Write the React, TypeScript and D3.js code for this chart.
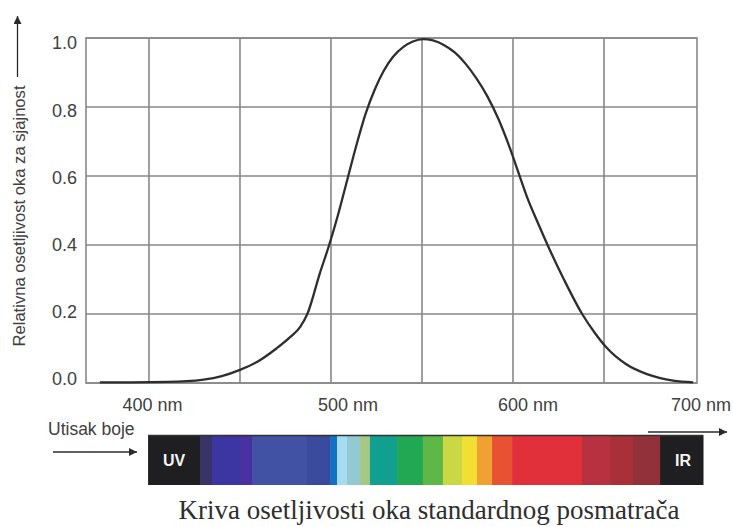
import * as React from 'react'
import * as d3 from 'd3'

const {useRef, useEffect} = React

// vrednosti ocitane sa slike (nm, relativna osetljivost)
const wavelengths = [373, 390, 410, 430, 440, 450, 460, 470, 478, 483, 487, 494, 499, 504, 509, 514, 519, 524, 529, 534, 540, 545, 550.5, 556, 562, 568, 574, 580, 586, 592, 598, 603, 608, 614, 619, 628, 638, 645, 651, 662, 674, 688, 699]
const sensitivity = [0.002, 0.002, 0.003, 0.01, 0.02, 0.038, 0.063, 0.1, 0.135, 0.162, 0.2, 0.32, 0.4, 0.49, 0.59, 0.69, 0.78, 0.85, 0.905, 0.945, 0.975, 0.99, 0.997, 0.993, 0.98, 0.958, 0.925, 0.882, 0.83, 0.765, 0.685, 0.61, 0.535, 0.46, 0.4, 0.3, 0.2, 0.145, 0.105, 0.055, 0.025, 0.007, 0.002]

const yTicks = [0, 0.2, 0.4, 0.6, 0.8, 1.0]
const xGrid = [400, 450, 500, 550, 600, 650]
const xTickValues = [400, 500, 600, 700]
const xTickLabels = ['400 nm', '500 nm', '600 nm', '700 nm']
const xTickShift = [3.5, 17, 15, 6]

// spektar: granice segmenata u nm i boje
const spectrumStops = [399.5, 428, 434.6, 450, 456.6, 486.8, 499.5, 503.3, 508.8, 516, 521.4, 536.3, 550.5, 561.5, 572, 580.2, 588.5, 599.5, 637.9, 653.3, 665.9, 680.8, 704.4]
const spectrumColors = ['#1f1f21', '#3a3466', '#3b36a2', '#4a31a0', '#4151a3', '#3a4a9c', '#1271c2', '#a6dcf2', '#93c9d2', '#a3c985', '#11a08f', '#22a853', '#5db848', '#c9d843', '#f2df34', '#f1a032', '#e85132', '#e1303a', '#b73141', '#a93039', '#923139', '#1f1f21']

const chartTitle = 'Kriva osetljivosti oka standardnog posmatrača'
const yTitle = 'Relativna osetljivost oka za sjajnost'

const W = 733
const H = 527
const sans = '"Liberation Sans", Arial, sans-serif'

export default function App() {
  const ref = useRef(null)

  useEffect(() => {
    document.body.style.margin = '0'
    const svg = d3.select(ref.current)
    svg.selectAll('*').remove()

    const x = d3.scaleLinear().domain([365.4, 701.1]).range([86, 697])
    const y = d3.scaleLinear().domain([0, 1]).range([383, 38])
    const yLab = d3.scaleLinear().domain([0, 1]).range([379, 43])

    const defs = svg.append('defs')
    defs.append('marker')
      .attr('id', 'arr')
      .attr('viewBox', '0 0 10 10')
      .attr('refX', 10).attr('refY', 5)
      .attr('markerWidth', 11).attr('markerHeight', 8)
      .attr('markerUnits', 'userSpaceOnUse')
      .attr('orient', 'auto')
      .append('path').attr('d', 'M0,0L10,5L0,10Z').attr('fill', '#2b2b2b')

    const grid = svg.append('g').attr('stroke', '#888').attr('stroke-width', 1.6)
    grid.selectAll('.gy').data(yTicks).join('line')
      .attr('x1', x.range()[0]).attr('x2', x.range()[1])
      .attr('y1', d => y(d)).attr('y2', d => y(d))
    grid.selectAll('.gx').data(xGrid).join('line')
      .attr('x1', d => x(d)).attr('x2', d => x(d))
      .attr('y1', y(0)).attr('y2', y(1))
    grid.append('rect')
      .attr('x', x.range()[0]).attr('y', y(1))
      .attr('width', x.range()[1] - x.range()[0]).attr('height', y(0) - y(1))
      .attr('fill', 'none')

    const pts = wavelengths.map((w, i) => [w, sensitivity[i]])
    svg.append('path')
      .attr('d', d3.line().x(d => x(d[0])).y(d => y(d[1])).curve(d3.curveMonotoneX)(pts))
      .attr('fill', 'none').attr('stroke', '#2e2e2e').attr('stroke-width', 2.3)

    svg.append('g').selectAll('text').data(yTicks).join('text')
      .attr('x', 77).attr('y', d => yLab(d)).attr('dy', '0.35em')
      .attr('text-anchor', 'end')
      .attr('font-family', sans).attr('font-size', 18).attr('fill', '#404040')
      .text(d => d.toFixed(1))

    svg.append('g').selectAll('text').data(xTickValues).join('text')
      .attr('x', (d, i) => x(d) + xTickShift[i]).attr('y', 411)
      .attr('text-anchor', 'middle')
      .attr('font-family', sans).attr('font-size', 18).attr('fill', '#404040')
      .text((d, i) => xTickLabels[i])

    // naslov y ose sa strelicom
    svg.append('text')
      .attr('transform', 'translate(25,216) rotate(-90)')
      .attr('text-anchor', 'middle')
      .attr('font-family', sans).attr('font-size', 16.6).attr('fill', '#404040')
      .text(yTitle)
    svg.append('line')
      .attr('x1', 17.5).attr('x2', 17.5).attr('y1', 77).attr('y2', 16)
      .attr('stroke', '#2b2b2b').attr('stroke-width', 1.3)
      .attr('marker-end', 'url(#arr)')

    // spektar
    const barTop = 435
    const barH = 50
    const bar = svg.append('g')
    bar.selectAll('rect').data(spectrumColors).join('rect')
      .attr('x', (d, i) => x(spectrumStops[i]))
      .attr('width', (d, i) => x(spectrumStops[i + 1]) - x(spectrumStops[i]) + 0.5)
      .attr('y', barTop).attr('height', barH)
      .attr('fill', d => d)
    bar.append('line')
      .attr('x1', x(spectrumStops[0])).attr('x2', x(spectrumStops[spectrumStops.length - 1]))
      .attr('y1', barTop + 0.5).attr('y2', barTop + 0.5)
      .attr('stroke', '#333').attr('stroke-width', 1.5)
    bar.append('text')
      .attr('x', (x(spectrumStops[0]) + x(spectrumStops[1])) / 2).attr('y', barTop + barH / 2)
      .attr('dy', '0.35em').attr('text-anchor', 'middle')
      .attr('font-family', sans).attr('font-size', 16).attr('font-weight', 'bold').attr('fill', '#f4f4f4')
      .text('UV')
    bar.append('text')
      .attr('x', x(spectrumStops[spectrumStops.length - 2]) + 23).attr('y', barTop + barH / 2)
      .attr('dy', '0.35em').attr('text-anchor', 'middle')
      .attr('font-family', sans).attr('font-size', 16).attr('font-weight', 'bold').attr('fill', '#f4f4f4')
      .text('IR')

    svg.append('text')
      .attr('x', 48).attr('y', 435)
      .attr('font-family', sans).attr('font-size', 17.5).attr('fill', '#404040')
      .text('Utisak boje')
    svg.append('line')
      .attr('x1', 53).attr('x2', 137).attr('y1', 452).attr('y2', 452)
      .attr('stroke', '#2b2b2b').attr('stroke-width', 1.3)
      .attr('marker-end', 'url(#arr)')
    svg.append('line')
      .attr('x1', 648).attr('x2', 727).attr('y1', 432).attr('y2', 432)
      .attr('stroke', '#2b2b2b').attr('stroke-width', 1.3)
      .attr('marker-end', 'url(#arr)')

    svg.append('text')
      .attr('x', 429).attr('y', 519)
      .attr('text-anchor', 'middle')
      .attr('font-family', '"Liberation Serif", "DejaVu Serif", serif').attr('font-size', 27).attr('fill', '#2e2e2e')
      .text(chartTitle)
  }, [])

  return <svg ref={ref} width={W} height={H} style={{display: 'block', background: '#fff'}} />
}
